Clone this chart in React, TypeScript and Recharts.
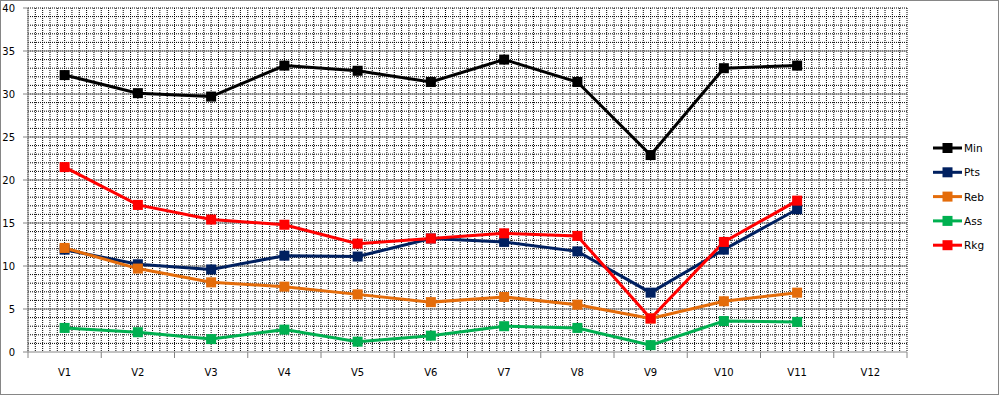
import { LineChart, Line, XAxis, YAxis, CartesianGrid } from 'recharts'

const categories = ['V1', 'V2', 'V3', 'V4', 'V5', 'V6', 'V7', 'V8', 'V9', 'V10', 'V11', 'V12']
const minValues = [32.2, 30.1, 29.7, 33.3, 32.7, 31.4, 34.0, 31.4, 22.9, 33.0, 33.3, null]
const ptsValues = [11.9, 10.2, 9.6, 11.2, 11.1, 13.2, 12.8, 11.7, 6.9, 11.9, 16.6, null]
const rebValues = [12.1, 9.7, 8.1, 7.6, 6.7, 5.8, 6.4, 5.5, 3.9, 5.9, 6.9, null]
const assValues = [2.8, 2.3, 1.5, 2.6, 1.2, 1.9, 3.0, 2.8, 0.8, 3.6, 3.5, null]
const rkgValues = [21.5, 17.1, 15.4, 14.8, 12.6, 13.2, 13.8, 13.5, 3.9, 12.8, 17.6, null]
const yTicks = [0, 5, 10, 15, 20, 25, 30, 35, 40]

const series = [
  { key: 'Min', color: '#000000' },
  { key: 'Pts', color: '#002060' },
  { key: 'Reb', color: '#E46C0A' },
  { key: 'Ass', color: '#00B050' },
  { key: 'Rkg', color: '#FF0000' },
]

const data = categories.map((name, i) => ({
  name,
  Min: minValues[i],
  Pts: ptsValues[i],
  Reb: rebValues[i],
  Ass: assValues[i],
  Rkg: rkgValues[i],
}))

const W = 999
const H = 395
const margin = { top: 8, right: 92, bottom: 13, left: 0 }
const PLOT_LEFT = 28
const PLOT_RIGHT = W - margin.right
const PLOT_BOTTOM = 352
const band = (PLOT_RIGHT - PLOT_LEFT) / categories.length
const FONT = '"DejaVu Sans", Verdana, sans-serif'
const GRAY = '#868686'

const squareDot = (color: string) => (props: any) => {
  const { cx, cy, index, value } = props
  if (value == null || cx == null || cy == null) return <g key={`d-${color}-${index}`} />
  return <rect key={`d-${color}-${index}`} x={cx - 5} y={cy - 5} width={10} height={10} fill={color} />
}

// category labels centred, tick marks on the boundaries between categories
function XTick(props: any) {
  const { x, payload, index } = props
  const left = x - band / 2
  return (
    <g>
      <line x1={left} x2={left} y1={PLOT_BOTTOM} y2={PLOT_BOTTOM + 6} stroke={GRAY} />
      {index === categories.length - 1 && (
        <line x1={left + band} x2={left + band} y1={PLOT_BOTTOM} y2={PLOT_BOTTOM + 6} stroke={GRAY} />
      )}
      <text x={x} y={PLOT_BOTTOM + 24} textAnchor="middle" fontSize={10} fontFamily={FONT} fill="#000">
        {payload.value}
      </text>
    </g>
  )
}

// legend drawn beside the chart, same order as the series
function LegendBox() {
  return (
    <svg width={66} height={125} style={{ position: 'absolute', left: 930, top: 136 }}>
      {series.map((s, i) => {
        const cy = 12 + i * 24.3
        return (
          <g key={s.key}>
            <line x1={3} x2={32} y1={cy} y2={cy} stroke={s.color} strokeWidth={3} />
            <rect x={12.5} y={cy - 5} width={10} height={10} fill={s.color} />
            <text x={34} y={cy + 4} fontSize={10.5} fontFamily={FONT} fill="#000">{s.key}</text>
          </g>
        )
      })}
    </svg>
  )
}

export default function App() {
  return (
    <div style={{ position: 'relative', width: W, height: H, background: '#fff' }}>
      <style>{`body{margin:0} .minor line{shape-rendering:crispEdges} .major line{shape-rendering:crispEdges}`}</style>
      <LineChart width={W} height={H} data={data} margin={margin}>
        <CartesianGrid
          className="minor"
          stroke="#000"
          strokeDasharray="1 1"
          horizontalCoordinatesGenerator={({ offset }: any) =>
            Array.from({ length: 40 }, (_, j) => offset.top + (offset.height * j) / 40)
          }
          verticalCoordinatesGenerator={({ offset }: any) =>
            Array.from({ length: 121 }, (_, k) => offset.left + (offset.width * k) / 120)
          }
        />
        <CartesianGrid
          className="major"
          stroke={GRAY}
          vertical={false}
          horizontalCoordinatesGenerator={({ offset }: any) =>
            [5, 10, 15, 20, 25, 30, 35].map(v => offset.top + offset.height * (1 - v / 40))
          }
        />
        <XAxis
          dataKey="name"
          height={30}
          axisLine={{ stroke: GRAY }}
          tickLine={false}
          tick={<XTick />}
          interval={0}
          padding={{ left: band / 2, right: band / 2 }}
        />
        <YAxis
          width={28}
          domain={[0, 40]}
          ticks={yTicks}
          interval={0}
          axisLine={{ stroke: GRAY }}
          tickLine={{ stroke: GRAY }}
          tickSize={5}
          tickMargin={8}
          tick={{ fontSize: 10, fontFamily: FONT, fill: '#000' }}
        />
        {series.map(s => (
          <Line
            key={s.key}
            dataKey={s.key}
            stroke={s.color}
            strokeWidth={3}
            dot={squareDot(s.color)}
            activeDot={false}
            isAnimationActive={false}
            type="linear"
          />
        ))}
      </LineChart>
      <LegendBox />
      <div style={{ position: 'absolute', inset: 0, border: `1px solid ${GRAY}`, pointerEvents: 'none' }} />
    </div>
  )
}
